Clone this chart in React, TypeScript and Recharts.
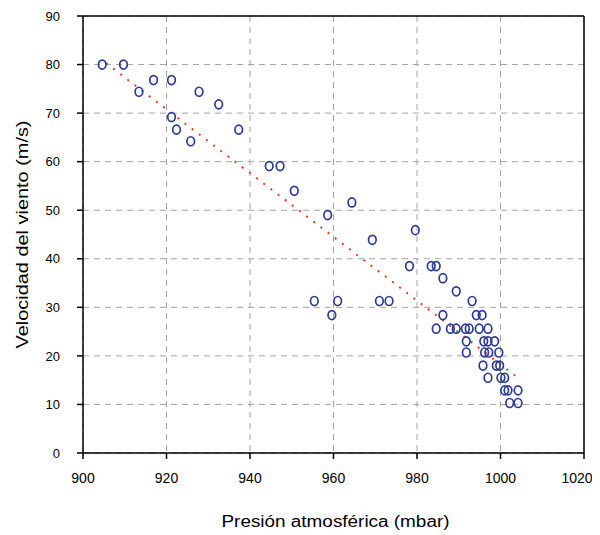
import React from 'react';
import { ScatterChart, Scatter, XAxis, YAxis, CartesianGrid, ReferenceLine, Label } from 'recharts';

// Presión atmosférica (mbar)
const pressure = [
  904.6, 909.7, 913.4, 916.9, 921.2, 921.2, 922.4, 925.8, 927.8, 932.5,
  937.3, 944.6, 947.2, 950.6, 958.6, 964.4, 969.3, 979.6, 978.2, 983.4,
  984.6, 986.2, 989.4, 993.2, 955.4, 961.0, 971.0, 973.3, 959.6, 986.2,
  994.2, 995.6,
  984.6, 988.0, 989.4, 991.6, 992.5, 994.9, 997.0,
  991.8, 996.0, 997.0, 998.6,
  991.8, 996.2, 997.2, 999.6,
  995.8, 999.0, 999.8,
  997.0, 1000.1, 1001.0,
  1001.0, 1001.8, 1004.2,
  1002.2, 1004.2,
];
// Velocidad del viento (m/s)
const speed = [
  80.0, 80.0, 74.4, 76.8, 76.8, 69.2, 66.6, 64.2, 74.4, 71.8,
  66.6, 59.1, 59.1, 54.0, 49.0, 51.6, 43.9, 45.9, 38.5, 38.5,
  38.5, 36.0, 33.3, 31.3, 31.3, 31.3, 31.3, 31.3, 28.4, 28.4,
  28.4, 28.4,
  25.6, 25.6, 25.6, 25.6, 25.6, 25.6, 25.6,
  23.0, 23.0, 23.0, 23.0,
  20.7, 20.7, 20.7, 20.7,
  18.0, 18.0, 18.0,
  15.5, 15.5, 15.5,
  12.9, 12.9, 12.9,
  10.3, 10.3,
];

// Linear trend line end points
const trendPressure = [905.5, 1004.2];
const trendSpeed = [80.3, 15.5];

const xTicks = [900, 920, 940, 960, 980, 1000, 1020];
const yTicks = [0, 10, 20, 30, 40, 50, 60, 70, 80, 90];

const xTitle = 'Presión atmosférica (mbar)';
const yTitle = 'Velocidad del viento (m/s)';

const points = pressure.map((p, i) => ({ x: p, y: speed[i] }));
const trend = trendPressure.map((p, i) => ({ x: p, y: trendSpeed[i] }));

const FONT = '"Liberation Sans", Arial, sans-serif';

const Ring = (props: any) => {
  const { cx, cy } = props;
  if (cx == null || cy == null) return <g />;
  return <ellipse cx={cx} cy={cy} rx={3.8} ry={4.5} fill="none" stroke="#2b3a98" strokeWidth={1.7} />;
};

const NoShape = () => <g />;

const XTick = (props: any) => {
  const { x, y, payload } = props;
  const v = payload && payload.value;
  const shift = v === xTicks[xTicks.length - 1] ? -7 : 0;
  return (
    <text
      x={x + shift}
      y={y}
      dy="0.71em"
      textAnchor="middle"
      fontFamily={FONT}
      fontSize={14}
      fill="#000"
    >
      {String(v)}
    </text>
  );
};

const XTitle = (props: any) => {
  const vb = props.viewBox || { x: 75, y: 445, width: 501, height: 82 };
  return (
    <text
      x={vb.x + vb.width / 2 + 2}
      y={vb.y + 74}
      textAnchor="middle"
      fontFamily={FONT}
      fontSize={16}
      fill="#000"
      textLength={228}
      lengthAdjust="spacingAndGlyphs"
    >
      {xTitle}
    </text>
  );
};

const YTitle = (props: any) => {
  const vb = props.viewBox || { x: 0, y: 8, width: 75, height: 437 };
  const cx = 20;
  const cy = vb.y + vb.height / 2;
  return (
    <text
      x={cx}
      y={cy}
      transform={`rotate(-90 ${cx} ${cy})`}
      textAnchor="middle"
      fontFamily={FONT}
      fontSize={16}
      fill="#000"
      textLength={228}
      lengthAdjust="spacingAndGlyphs"
    >
      {yTitle}
    </text>
  );
};

export default function App() {
  return (
    <div style={{ width: 592, height: 527 }}>
      <ScatterChart width={592} height={527} margin={{ top: 8, right: 16, bottom: 0, left: 0 }}>
        <CartesianGrid stroke="#a3a3a3" strokeDasharray="6 5" strokeWidth={1} />
        <XAxis
          type="number"
          dataKey="x"
          domain={[900, 1020]}
          ticks={xTicks}
          interval={0}
          allowDataOverflow
          height={82}
          axisLine={{ stroke: '#000', strokeWidth: 1.5 }}
          tickLine={{ stroke: '#000', strokeWidth: 1.5 }}
          tickSize={6}
          tickMargin={14}
          tick={<XTick />}
        >
          <Label content={<XTitle />} />
        </XAxis>
        <YAxis
          type="number"
          dataKey="y"
          domain={[0, 90]}
          ticks={yTicks}
          interval={0}
          allowDataOverflow
          width={75}
          axisLine={{ stroke: '#000', strokeWidth: 1.5 }}
          tickLine={{ stroke: '#000', strokeWidth: 1.5 }}
          tickSize={6}
          tickMargin={17}
          tick={{ fill: '#000', fontSize: 13, fontFamily: FONT }}
        >
          <Label content={<YTitle />} />
        </YAxis>
        <ReferenceLine y={90} stroke="#000" strokeWidth={1.5} />
        <ReferenceLine x={1020} stroke="#000" strokeWidth={1.5} />
        <Scatter
          data={trend}
          line={{ stroke: '#ee3b1f', strokeWidth: 2, strokeDasharray: '2 7' }}
          shape={NoShape}
          isAnimationActive={false}
        />
        <Scatter data={points} shape={Ring} isAnimationActive={false} />
      </ScatterChart>
    </div>
  );
}
